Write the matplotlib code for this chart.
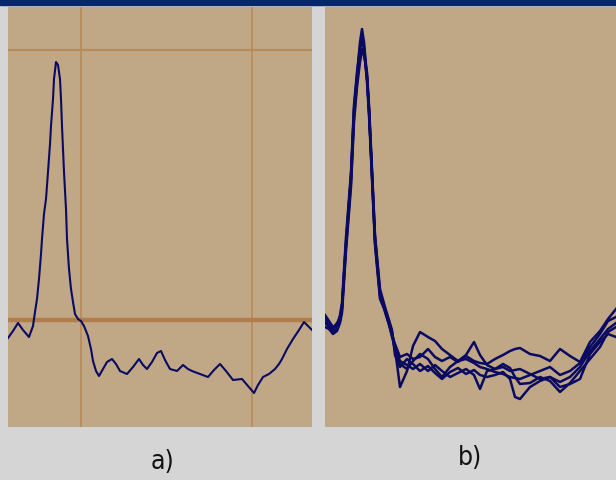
import matplotlib
matplotlib.use("Agg")
import matplotlib.pyplot as plt
from matplotlib.patches import Rectangle


# single pulse, panel a)
a_x = [0, 5, 10, 15, 21, 25, 27, 29, 31, 33, 34, 36, 38, 40, 42, 43, 45, 46, 48,
       50, 52, 53, 54, 56, 58, 59, 61, 63, 65, 67, 70, 73, 76, 80, 83, 85, 88, 91,
       95, 99, 104, 108, 112, 119, 125, 131, 135, 139, 144, 149, 153, 157, 162,
       169, 175, 180, 184, 192, 200, 206, 212, 218, 225, 234, 240, 246, 250, 255,
       261, 267, 271, 274, 279, 285, 291, 296, 300, 304]
a_y = [89, 96, 104, 97, 90, 101, 115, 128, 148, 173, 188, 213, 228, 255, 283,
       301, 328, 348, 365, 362, 348, 328, 301, 255, 218, 188, 158, 138, 125, 113,
       108, 106, 101, 91, 78, 66, 56, 51, 58, 65, 68, 63, 56, 53, 60, 68, 62, 58,
       65, 74, 76, 67, 58, 56, 62, 58, 56, 53, 50, 57, 63, 56, 47, 48, 41, 34, 42,
       50, 53, 58, 63, 68, 78, 88, 97, 105, 101, 97]

# reference lines, panel a)
a_vlines = [73, 244]
a_hline_thin = 377
a_hline_thick = 107

# overlaid pulses, panel b)
b_x = [0, 4, 8, 12, 15, 17, 21, 26, 29, 32, 35, 37, 39, 42, 44, 47, 50, 55, 60,
       64, 67,
       70, 75, 82, 88, 95, 103, 110, 117, 125, 133, 141, 149, 155, 162, 170, 178,
       185, 190, 195, 205, 215, 225, 235, 245, 255, 265, 275, 283, 291]
b_1 = [110, 104, 97, 102, 110, 120, 185, 251, 318, 351, 385, 398, 385, 351, 318,
       251, 185, 131, 118, 105, 95,
       78, 40, 56, 81, 95, 90, 86, 78, 72, 66, 68, 64, 60, 58, 55, 53, 50, 49,
       48, 52, 56, 60, 52, 56, 64, 80, 93, 106, 110]
b_2 = [104, 100, 95, 98, 106, 117, 180, 245, 310, 345, 372, 378, 376, 350, 315,
       255, 190, 135, 115, 102, 92,
       83, 70, 73, 68, 70, 78, 70, 66, 70, 65, 71, 66, 64, 63, 68, 72, 76, 78,
       79, 73, 71, 66, 78, 71, 65, 85, 96, 108, 118]
b_3 = [112, 106, 100, 101, 112, 124, 190, 255, 322, 355, 380, 390, 380, 345, 312,
       248, 182, 128, 116, 104, 94,
       76, 63, 58, 66, 73, 68, 58, 50, 60, 66, 72, 85, 72, 62, 58, 60, 56, 57,
       58, 53, 48, 50, 45, 50, 60, 76, 88, 98, 104]
b_4 = [100, 98, 93, 96, 104, 114, 176, 240, 305, 340, 365, 376, 372, 355, 322,
       258, 192, 138, 120, 107, 97,
       72, 60, 68, 63, 56, 61, 54, 48, 55, 59, 53, 57, 52, 50, 52, 55, 48, 30,
       28, 40, 46, 50, 40, 43, 48, 73, 85, 93, 90]
b_5 = [108, 102, 99, 104, 109, 121, 183, 250, 316, 348, 378, 385, 378, 348, 318,
       252, 186, 133, 117, 103, 90,
       80, 66, 62, 58, 63, 56, 62, 56, 50, 54, 58, 52, 38, 56, 58, 63, 59, 50,
       43, 44, 50, 46, 35, 44, 56, 68, 80, 95, 100]
b_traces = [b_1, b_2, b_3, b_4, b_5]

panel_labels = ["a)", "b)"]

PANEL = "#c0a887"
GRID = "#b88a58"
TRACE = "#0a0a62"

fig = plt.figure(figsize=(6.16, 4.81), dpi=100, facecolor="#d5d5d5")
fig.patches.append(Rectangle((0, 475 / 481), 1, 6 / 481, transform=fig.transFigure,
                             color="#062868", zorder=0))

ax_a = fig.add_axes([8 / 616, 53 / 481, 304 / 616, 420 / 481])
ax_b = fig.add_axes([325 / 616, 53 / 481, 291 / 616, 420 / 481])

for ax in (ax_a, ax_b):
    ax.set_facecolor(PANEL)
    ax.set_ylim(0, 420)
    ax.set_xticks([])
    ax.set_yticks([])
    for s in ax.spines.values():
        s.set_visible(False)

ax_a.set_xlim(0, 304)
for xv in a_vlines:
    ax_a.axvline(xv, color=GRID, lw=1.2)
ax_a.axhline(a_hline_thin, color=GRID, lw=1.6)
ax_a.axhline(a_hline_thick, color="#b07d4c", lw=3.2)
ax_a.plot(a_x, a_y, color=TRACE, lw=1.5)

ax_b.set_xlim(0, 291)
for tr in b_traces:
    ax_b.plot(b_x, tr, color=TRACE, lw=1.8)

fig.text(162 / 616, 1 - 462 / 481, panel_labels[0], ha="center", va="center",
         fontsize=19, family="DejaVu Sans", fontstretch="condensed", color="#111111")
fig.text(470 / 616, 1 - 458 / 481, panel_labels[1], ha="center", va="center",
         fontsize=19, family="DejaVu Sans", fontstretch="condensed", color="#111111")

fig.savefig("out.png", dpi=100, facecolor=fig.get_facecolor())
